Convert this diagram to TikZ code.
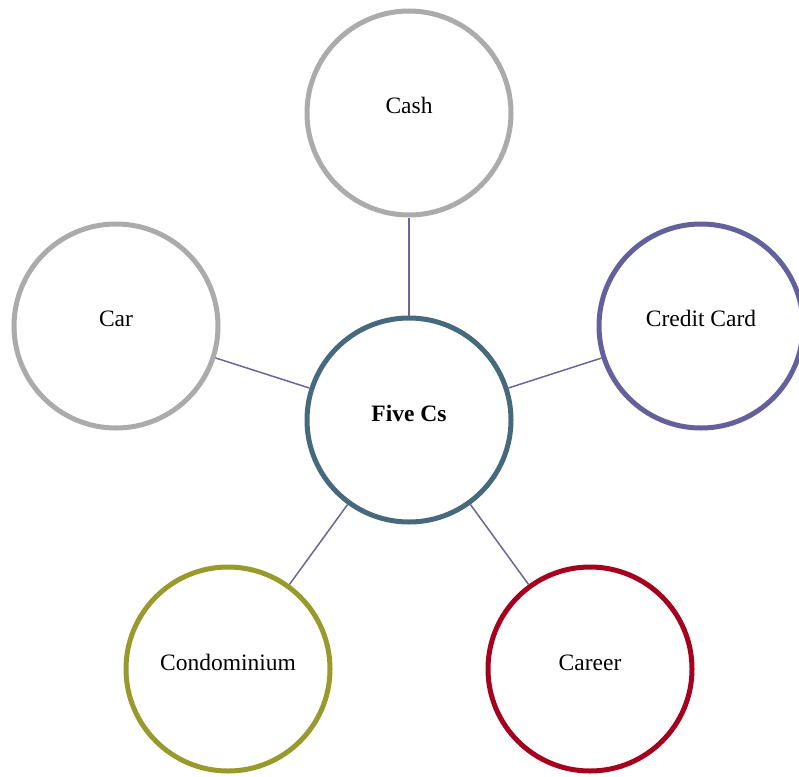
\documentclass[tikz,border=0pt]{standalone}
\usepackage{fontspec}
\setmainfont{Liberation Serif}
\definecolor{cgray}{HTML}{ABABAB}
\definecolor{ccenter}{HTML}{46697D}
\definecolor{cpurple}{HTML}{64609B}
\definecolor{colive}{HTML}{989A2C}
\definecolor{ccrimson}{HTML}{A6001F}
\definecolor{cconn}{HTML}{6B6699}
\tikzset{
  bubble/.style={circle, draw=#1, line width=5pt, minimum size=204pt, inner sep=0pt, fill=white},
  lbl/.style={anchor=base, inner sep=0pt, font=\fontsize{23.5}{28}\selectfont},
  conn/.style={draw=cconn, line width=1.5pt}
}
\begin{document}
\begin{tikzpicture}[x=1pt,y=-1pt]
\useasboundingbox (0,0) rectangle (799,776);
\node[bubble=ccenter] (five) at (409,420) {};
\node[bubble=cgray] (cash) at (409,113) {};
\node[bubble=cgray] (car) at (116,326) {};
\node[bubble=cpurple] (credit) at (701,326) {};
\node[bubble=colive] (condo) at (228,669) {};
\node[bubble=ccrimson] (career) at (590,669) {};
\draw[conn] (five) -- (cash);
\draw[conn] (five) -- (car);
\draw[conn] (five) -- (credit);
\draw[conn] (five) -- (condo);
\draw[conn] (five) -- (career);
\node[lbl, font=\fontsize{23.5}{28}\selectfont\bfseries] (tfive) at (409,421) {Five Cs};
\node[lbl] (tcash) at (409,113) {Cash};
\node[lbl] (tcar) at (116,326) {Car};
\node[lbl] (tcredit) at (701,326) {Credit Card};
\node[lbl] (tcondo) at (228,670) {Condominium};
\node[lbl] (tcareer) at (590,670) {Career};
\end{tikzpicture}
\end{document}
